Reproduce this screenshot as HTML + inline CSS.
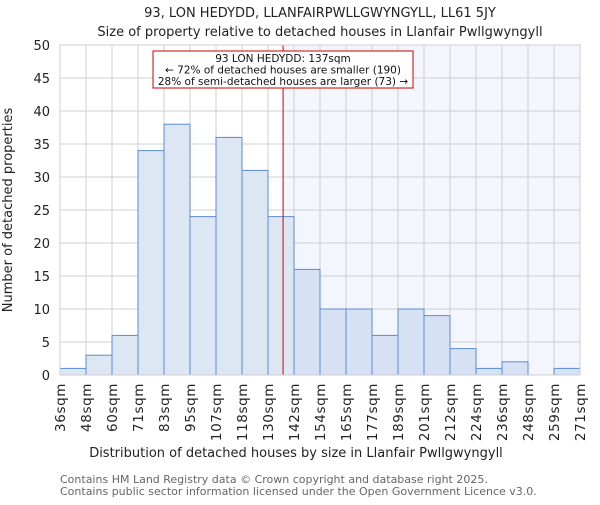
<!DOCTYPE html>
<html><head><meta charset="utf-8"><style>
body{margin:0;background:#fff}
svg text{font-family:"DejaVu Sans","Liberation Sans",sans-serif}
</style></head><body>
<svg id="chart" width="600" height="500" xmlns="http://www.w3.org/2000/svg">
<text x="320" y="17" text-anchor="middle" font-size="13" fill="#222">93, LON HEDYDD, LLANFAIRPWLLGWYNGYLL, LL61 5JY</text>
<text x="320" y="36" text-anchor="middle" font-size="13" fill="#222">Size of property relative to detached houses in Llanfair Pwllgwyngyll</text>
<g id="plot"></g>
<text x="296" y="457" text-anchor="middle" font-size="13" fill="#222">Distribution of detached houses by size in Llanfair Pwllgwyngyll</text>
<text transform="translate(12,210) rotate(-90)" text-anchor="middle" font-size="13" fill="#222">Number of detached properties</text>
<text x="60" y="483" font-size="11" fill="#666">Contains HM Land Registry data © Crown copyright and database right 2025.</text>
<text x="60" y="495" font-size="11" fill="#666">Contains public sector information licensed under the Open Government Licence v3.0.</text>
</svg>
<script>
const binLabels=["36sqm","48sqm","60sqm","71sqm","83sqm","95sqm","107sqm","118sqm","130sqm","142sqm","154sqm","165sqm","177sqm","189sqm","201sqm","212sqm","224sqm","236sqm","248sqm","259sqm","271sqm"];
const counts=[1,3,6,34,38,24,36,31,24,16,10,10,6,10,9,4,1,2,0,1];
const yTicks=[0,5,10,15,20,25,30,35,40,45,50];
const markerBin=8.58;
const NS="http://www.w3.org/2000/svg";
const L=60,R=580,T=45,B=375,yMax=50;
const bw=(R-L)/counts.length;
const xs=i=>L+i*bw;
const ys=v=>B-(v/yMax)*(B-T);
const g=document.getElementById('plot');
function mk(t,a){const e=document.createElementNS(NS,t);for(const k in a)e.setAttribute(k,a[k]);g.appendChild(e);return e;}
const mx=xs(markerBin);
let e=mk('rect',{x:mx,y:T,width:R-mx,height:B-T,fill:'#f3f6fd'});


yTicks.forEach(v=>{
 let l=mk('line',{x1:L,x2:R,y1:ys(v),y2:ys(v),stroke:'#cfcfcf','stroke-width':1});
 
 
 let t=mk('text',{x:L-10,y:ys(v)+5,'text-anchor':'end','font-size':13,fill:'#222'});
 t.textContent=v;
 
 
});
binLabels.forEach((s,i)=>{
 let l=mk('line',{x1:xs(i),x2:xs(i),y1:T,y2:B,stroke:'#cfcfcf','stroke-width':1});
 
 
 let t=mk('text',{transform:`translate(${xs(i)+5},${B+8}) rotate(-90)`,'text-anchor':'end','font-size':13.5,'letter-spacing':'0.6',fill:'#222'});
 t.textContent=s;
 
 
});
counts.forEach((v,i)=>{
 if(v<=0)return;
 let r=mk('rect',{x:xs(i),y:ys(v),width:bw,height:B-ys(v),fill:i+0.5>markerBin?'#d6e1f3':'#dde7f4',stroke:'#5b8bd4','stroke-width':1});
 
 
});
e=mk('line',{x1:mx,x2:mx,y1:T,y2:B,stroke:'#cc0000','stroke-width':1});


e=mk('rect',{x:153,y:51,width:260,height:37,fill:'#fff',stroke:'#cc0000','stroke-width':1});


["93 LON HEDYDD: 137sqm","← 72% of detached houses are smaller (190)","28% of semi-detached houses are larger (73) →"].forEach((s,i)=>{
 let t=mk('text',{x:283,y:62+i*11.5,'text-anchor':'middle','font-size':10.5,fill:'#111'});
 t.textContent=s;
 
 
});
e=mk('rect',{x:L,y:T,width:R-L,height:B-T,fill:'none',stroke:'#cfcfcf'});


</script>
</body></html>
